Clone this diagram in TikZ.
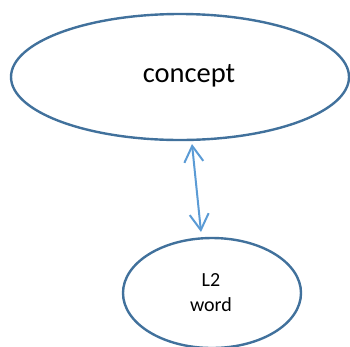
\documentclass[tikz,border=0pt]{standalone}
\usepackage{fontspec}
\setmainfont{Carlito}
\usetikzlibrary{arrows.meta,shapes.geometric}
\definecolor{edgeblue}{HTML}{41719C}
\definecolor{arrowblue}{HTML}{5B9BD5}
\tikzset{
  bubble/.style={draw=edgeblue, line width=2.4pt, ellipse, inner sep=0pt},
  link/.style={draw=arrowblue, line width=2pt, {Straight Barb[length=16pt,width=19pt]}-{Straight Barb[length=16pt,width=19pt]}}
}
\begin{document}
\begin{tikzpicture}[x=1pt,y=-1pt]
\useasboundingbox (0,0) rectangle (350,346);
\node[bubble, minimum width=338pt, minimum height=126pt] (concept) at (180,77) {};
\node[font=\fontsize{28.5}{32}\selectfont] (conceptlabel) at (189,76) {concept};
\node[bubble, minimum width=178pt, minimum height=110pt] (word) at (212,293) {};
\node[font=\fontsize{20}{25}\selectfont, align=center] (wordlabel) at (211,293) {L2\\word};
\coordinate (a) at (192,144);
\coordinate (b) at (201,232);
\draw[link] (a) -- (b);
\end{tikzpicture}
\end{document}
